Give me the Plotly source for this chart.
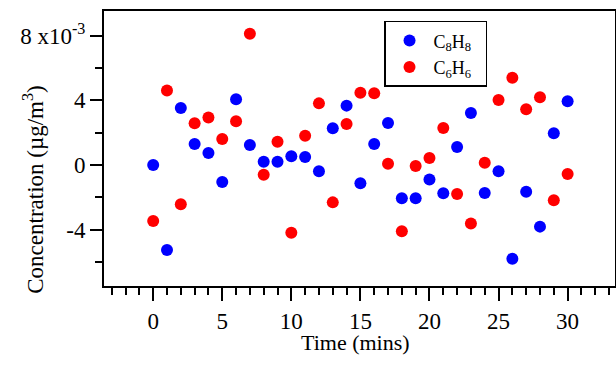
import plotly.graph_objects as go

time_min = list(range(0, 31))
c8h8 = [0.00, -5.26, 3.53, 1.30, 0.74, -1.05, 4.06, 1.24, 0.20, 0.20,
        0.54, 0.50, -0.39, 2.27, 3.67, -1.13, 1.30, 2.60, -2.06, -2.06,
        -0.89, -1.75, 1.11, 3.22, -1.73, -0.39, -5.79, -1.65, -3.81, 1.96, 3.94]
c6h6 = [-3.46, 4.60, -2.43, 2.58, 2.93, 1.61, 2.70, 8.12, -0.60, 1.44,
        -4.19, 1.81, 3.81, -2.31, 2.54, 4.47, 4.43, 0.08, -4.10, -0.06,
        0.43, 2.29, -1.79, -3.61, 0.14, 4.02, 5.40, 3.44, 4.19, -2.18, -0.56]
y_tickvals = [-4, 0, 4, 8]
y_ticktext = ["-4", "0", "4", "8 x10<sup>-3</sup>"]
x_tickvals = [0, 5, 10, 15, 20, 25, 30]

FONT = "Liberation Serif"

fig = go.Figure()
fig.add_trace(go.Scatter(x=time_min, y=c8h8, mode="markers",
                         name="C<sub>8</sub>H<sub>8</sub>\u00a0\u00a0",
                         marker=dict(color="#0000ff", size=12)))
fig.add_trace(go.Scatter(x=time_min, y=c6h6, mode="markers",
                         name="C<sub>6</sub>H<sub>6</sub>\u00a0\u00a0",
                         marker=dict(color="#ff0000", size=12)))

fig.update_layout(
    width=616, height=369,
    margin=dict(l=104, r=1, t=11, b=83),
    paper_bgcolor="white", plot_bgcolor="white",
    font=dict(family=FONT, size=23, color="black"),
    showlegend=True,
    legend=dict(x=0.548, y=0.964, xanchor="left", yanchor="top",
                bordercolor="black", borderwidth=1.5, bgcolor="white",
                font=dict(family=FONT, size=18), itemwidth=38,
                tracegroupgap=0),
    annotations=[
        dict(text="Concentration (µg/m<sup>3</sup>)", textangle=-90,
             xref="paper", yref="paper", x=-0.137, y=0.35,
             xanchor="center", yanchor="middle", showarrow=False,
             font=dict(family=FONT, size=23)),
        dict(text="Time (mins)",
             xref="paper", yref="paper", x=0.493, y=-0.153,
             xanchor="center", yanchor="top", showarrow=False,
             font=dict(family=FONT, size=22)),
    ],
)
fig.update_xaxes(
    range=[-3.56, 33.43], tickmode="array", tickvals=x_tickvals,
    ticks="outside", ticklen=13, tickwidth=1.5, tickcolor="black",
    showline=True, linecolor="black", linewidth=2, mirror=True,
    showgrid=False, zeroline=False, automargin=False,
    minor=dict(dtick=1, tick0=0, ticks="outside", ticklen=7, tickwidth=1.5, tickcolor="black", showgrid=False),
    tickfont=dict(family=FONT, size=23),
)
fig.update_yaxes(
    range=[-7.48, 9.52], tickmode="array", tickvals=y_tickvals, ticktext=y_ticktext,
    ticks="outside", ticklen=12, tickwidth=1.5, tickcolor="black",
    showline=True, linecolor="black", linewidth=2, mirror=True,
    showgrid=False, zeroline=False, automargin=False,
    minor=dict(dtick=2, tick0=0, ticks="outside", ticklen=7, tickwidth=1.5, tickcolor="black", showgrid=False),
    tickfont=dict(family=FONT, size=23),
)

fig.write_html("out.html", config={"displayModeBar": False},
               post_script="document.body.style.margin='0';")
